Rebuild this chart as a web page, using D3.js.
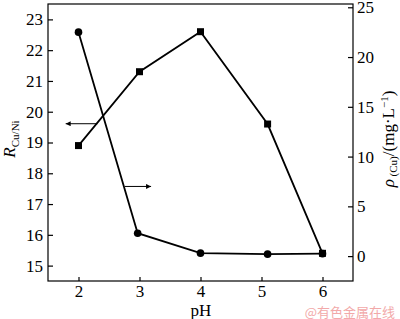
<!DOCTYPE html>
<html>
<head>
<meta charset="utf-8">
<script src="https://cdn.jsdelivr.net/npm/d3@7.9.0/dist/d3.min.js"></script>
<style>
  body { margin: 0; background: #fff; }
  svg text { font-family: "Liberation Serif", "Times New Roman", Times, "DejaVu Serif", serif; fill: #000; }
</style>
</head>
<body>
<svg id="chart" width="400" height="319"></svg>
<script>
// pH values for each series
const phR = [2, 3, 4, 5.1, 6];
const ratioCuNi = [18.9, 21.3, 22.6, 19.6, 15.4];   // left axis, squares
const phRho = [2, 2.97, 4, 5.1, 6];
const rhoCu = [22.5, 2.3, 0.3, 0.2, 0.25];          // right axis, circles

const xTicks = [2, 3, 4, 5, 6];
const leftTicks = [15, 16, 17, 18, 19, 20, 21, 22, 23];
const rightTicks = [0, 5, 10, 15, 20, 25];

// annotation arrows in data units: [x1, x2, y]
const arrowLeft = [2.31, 1.79, 19.61];
const arrowRight = [2.76, 3.19, 7];

const serif = '"Liberation Serif", "Times New Roman", Times, "DejaVu Serif", serif';

const svg = d3.select('#chart');
const m = { left: 48, right: 353, top: 4, bottom: 281 };

const x = d3.scaleLinear().domain([1.5, 6.5]).range([m.left, m.right]);
const yL = d3.scaleLinear().domain([14.5, 23.5]).range([m.bottom, m.top]);
const yR = d3.scaleLinear().domain([-2.5, 25.33]).range([m.bottom, m.top]);

svg.append('defs').append('marker')
  .attr('id', 'arr').attr('viewBox', '0 0 10 10')
  .attr('refX', 10).attr('refY', 5)
  .attr('markerWidth', 9).attr('markerHeight', 5)
  .attr('markerUnits', 'userSpaceOnUse')
  .attr('orient', 'auto')
  .append('path').attr('d', 'M0,0L10,5L0,10z').attr('fill', '#000');

// frame
svg.append('rect')
  .attr('x', m.left).attr('y', m.top)
  .attr('width', m.right - m.left).attr('height', m.bottom - m.top)
  .attr('fill', 'none').attr('stroke', '#000').attr('stroke-width', 1.2);

// axes with inward ticks
const axB = svg.append('g').attr('transform', `translate(0,${m.bottom})`)
  .call(d3.axisBottom(x).tickValues(xTicks).tickSize(-4).tickPadding(4).tickFormat(d3.format('d')));
const axL = svg.append('g').attr('transform', `translate(${m.left},0)`)
  .call(d3.axisLeft(yL).tickValues(leftTicks).tickSize(-5).tickPadding(5).tickFormat(d3.format('d')));
const axR = svg.append('g').attr('transform', `translate(${m.right},0)`)
  .call(d3.axisRight(yR).tickValues(rightTicks).tickSize(-5).tickPadding(4).tickFormat(d3.format('d')));

[axB, axL, axR].forEach(g => {
  g.attr('font-family', null).attr('font-size', null);
  g.select('.domain').remove();
  g.selectAll('.tick line').attr('stroke', '#000').attr('stroke-width', 1.2);
  g.selectAll('.tick text').style('font-size', '17px').style('font-family', serif);
});

// series lines
const lineR = d3.line().x((d, i) => x(phR[i])).y(d => yL(d));
const lineRho = d3.line().x((d, i) => x(phRho[i])).y(d => yR(d));

svg.append('path').attr('d', lineR(ratioCuNi))
  .attr('fill', 'none').attr('stroke', '#000').attr('stroke-width', 1.8);
svg.append('path').attr('d', lineRho(rhoCu))
  .attr('fill', 'none').attr('stroke', '#000').attr('stroke-width', 1.8);

svg.selectAll('.sq').data(ratioCuNi).enter().append('rect')
  .attr('x', (d, i) => x(phR[i]) - 3.5).attr('y', d => yL(d) - 3.5)
  .attr('width', 7).attr('height', 7).attr('fill', '#000');
svg.selectAll('.ci').data(rhoCu).enter().append('circle')
  .attr('cx', (d, i) => x(phRho[i])).attr('cy', d => yR(d))
  .attr('r', 3.8).attr('fill', '#000');

// arrows
svg.append('line')
  .attr('x1', x(arrowLeft[0])).attr('x2', x(arrowLeft[1]))
  .attr('y1', yL(arrowLeft[2])).attr('y2', yL(arrowLeft[2]))
  .attr('stroke', '#000').attr('stroke-width', 1).attr('marker-end', 'url(#arr)');
svg.append('line')
  .attr('x1', x(arrowRight[0])).attr('x2', x(arrowRight[1]))
  .attr('y1', yR(arrowRight[2])).attr('y2', yR(arrowRight[2]))
  .attr('stroke', '#000').attr('stroke-width', 1).attr('marker-end', 'url(#arr)');

// axis titles
svg.append('text').attr('x', 201).attr('y', 316)
  .attr('text-anchor', 'middle').style('font-size', '17px').text('pH');

const tl = svg.append('text')
  .attr('transform', 'translate(15,139) rotate(-90)')
  .attr('text-anchor', 'middle').style('font-size', '17px');
tl.append('tspan').style('font-style', 'italic').text('R');
tl.append('tspan').attr('dy', 4).style('font-size', '11px').text('Cu/Ni');

const tr = svg.append('text')
  .attr('transform', 'translate(394,139) rotate(-90)')
  .attr('text-anchor', 'middle').style('font-size', '17px');
tr.append('tspan').style('font-style', 'italic').text('ρ');
tr.append('tspan').attr('dy', 3).style('font-size', '11px').text(' (Cu)');
tr.append('tspan').attr('dy', -3).text('/(mg·L');
tr.append('tspan').attr('dy', -6).style('font-size', '11px').text('−1');
tr.append('tspan').attr('dy', 6).text(')');

// watermark
svg.append('text').attr('x', 395).attr('y', 317)
  .attr('text-anchor', 'end')
  .style('font-family', '"Noto Sans CJK SC", sans-serif')
  .style('font-size', '13px').style('fill', '#f2a9a9')
  .text('@有色金属在线');
</script>
</body>
</html>
